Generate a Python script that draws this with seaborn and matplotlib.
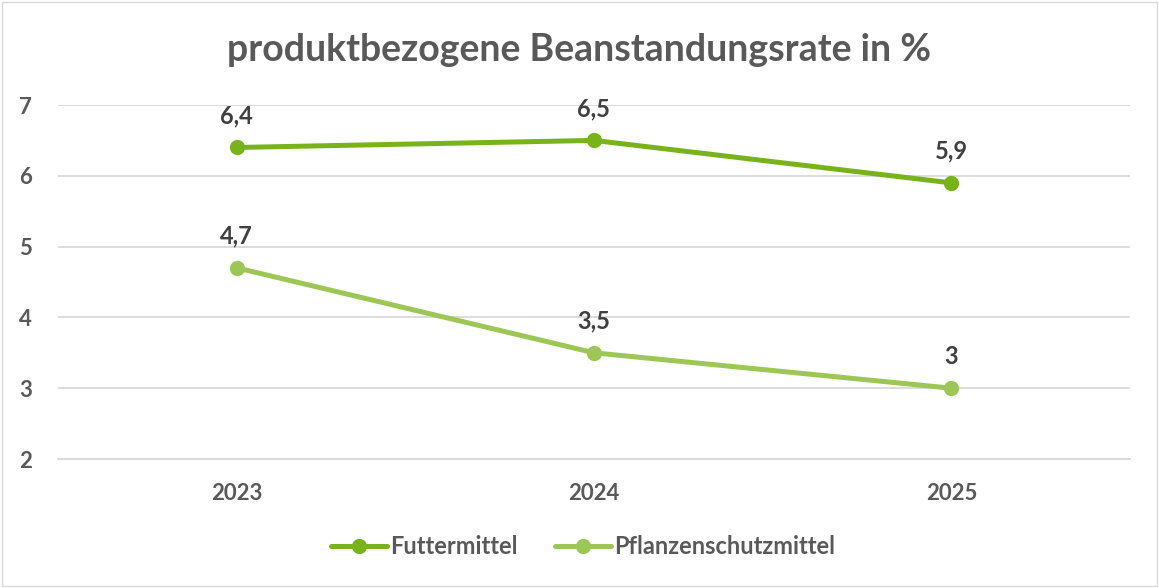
import matplotlib
matplotlib.use("Agg")
import matplotlib.pyplot as plt
import seaborn as sns
import pandas as pd
from matplotlib.patches import Rectangle

years = ["2023", "2024", "2025"]
futtermittel = [6.4, 6.5, 5.9]
pflanzenschutz = [4.7, 3.5, 3.0]
labels_futter = ["6,4", "6,5", "5,9"]
labels_pflanzen = ["4,7", "3,5", "3"]
series_names = ["Futtermittel", "Pflanzenschutzmittel"]
y_ticks = [2, 3, 4, 5, 6, 7]

df = pd.DataFrame({
    "Jahr": years * 2,
    "Wert": futtermittel + pflanzenschutz,
    "Serie": [series_names[0]] * 3 + [series_names[1]] * 3,
})

sns.set_theme(style="white")
plt.rcParams['font.family'] = ['Lato', 'DejaVu Sans']

c_dark = "#78B31C"
c_light = "#9CC655"
text_grey = "#595959"
label_grey = "#404040"

fig = plt.figure(figsize=(11.59, 5.88), dpi=100)
ax = fig.add_axes([58/1159, 1-459/588, (1130-58)/1159, (459-105)/588])

sns.lineplot(data=df, x="Jahr", y="Wert", hue="Serie", palette=[c_dark, c_light],
             marker="o", markersize=11, markeredgewidth=0, linewidth=3.6, ax=ax,
             sort=False)

ax.set_xlim(-0.5, 2.5)
ax.set_ylim(2, 7)
ax.set_yticks(y_ticks)
ax.yaxis.grid(True, color="#D9D9D9", linewidth=1.3)
ax.xaxis.grid(False)
for s in ["top", "right", "left"]:
    ax.spines[s].set_visible(False)
ax.spines["bottom"].set_color("#D9D9D9")
ax.spines["bottom"].set_linewidth(1.3)
ax.set_xlabel("")
ax.set_ylabel("")
ax.tick_params(axis="both", length=0, labelsize=16, labelcolor=text_grey)
ax.tick_params(axis="y", pad=19)
ax.tick_params(axis="x", pad=17)
for t in ax.get_xticklabels() + ax.get_yticklabels():
    t.set_fontweight("bold")

for vals, labs in [(futtermittel, labels_futter), (pflanzenschutz, labels_pflanzen)]:
    for i, (v, l) in enumerate(zip(vals, labs)):
        ax.annotate(l, (i, v), xytext=(0, 23), textcoords="offset points",
                    ha="center", va="center", fontsize=17, fontweight="bold",
                    color=label_grey)

fig.text(0.5, 1-50/588, "produktbezogene Beanstandungsrate in %", ha="center",
         va="center", fontsize=27, fontweight="bold", color=text_grey)

leg = fig.legend(*ax.get_legend_handles_labels(), loc="center",
                 bbox_to_anchor=(583/1159, 1-547/588), ncol=2, frameon=False,
                 fontsize=17, handlelength=2.37, columnspacing=1.6, handletextpad=0.13)
ax.get_legend().remove()
for t in leg.get_texts():
    t.set_color(text_grey)
    t.set_fontweight("bold")

fig.patches.append(Rectangle((0.002, 0.003), 0.996, 0.994, transform=fig.transFigure,
                             fill=False, edgecolor="#D9D9D9", linewidth=1))

fig.savefig("out.png", dpi=100)
